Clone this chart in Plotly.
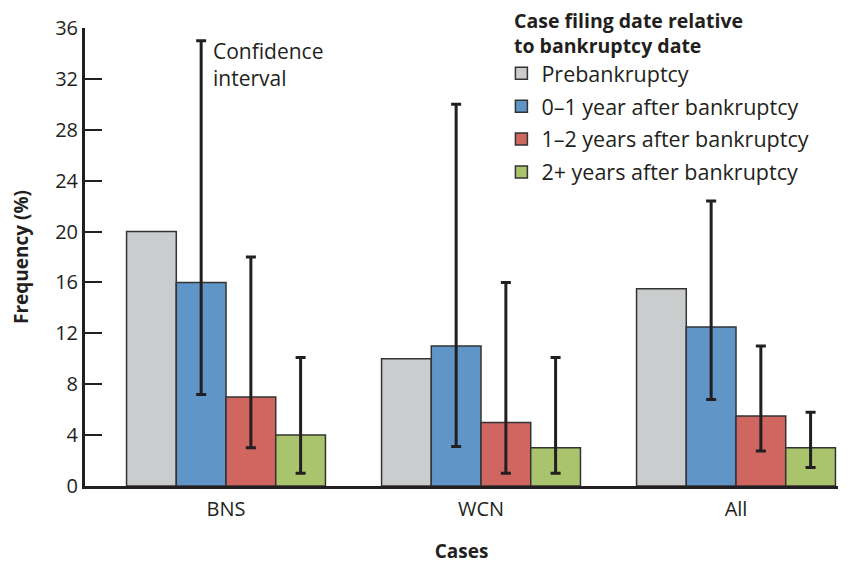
import plotly.graph_objects as go

categories = ["BNS", "WCN", "All"]
series_names = ["Prebankruptcy", "0–1 year after bankruptcy",
                "1–2 years after bankruptcy", "2+ years after bankruptcy"]
pre_vals = [20, 10, 15.5]
y01_vals = [16, 11, 12.5]
y12_vals = [7, 5, 5.5]
y2p_vals = [4, 3, 3]
# confidence intervals (lower, upper)
y01_lo = [7.2, 3.1, 6.8]
y01_hi = [35, 30, 22.4]
y12_lo = [3, 1, 2.75]
y12_hi = [18, 16, 11]
y2p_lo = [1, 1, 1.45]
y2p_hi = [10.1, 10.1, 5.8]
y_ticks = [0, 4, 8, 12, 16, 20, 24, 28, 32, 36]

colors = ["#cbcccd", "#6095c8", "#d06660", "#a9c46c"]
INK = "#231f20"
FONT = "Open Sans"

fig = go.Figure()

def add(name, vals, color, lo=None, hi=None):
    err = None
    if lo is not None:
        err = dict(type="data", symmetric=False,
                   array=[h - v for h, v in zip(hi, vals)],
                   arrayminus=[v - l for v, l in zip(vals, lo)],
                   color=INK, thickness=3, width=5)
    fig.add_trace(go.Bar(
        x=categories, y=vals, name=name, legendgroup=name,
        marker=dict(color=color, line=dict(color="#333333", width=1.5)),
        error_y=err))

add(series_names[0], pre_vals, colors[0])
add(series_names[1], y01_vals, colors[1], y01_lo, y01_hi)
add(series_names[2], y12_vals, colors[2], y12_lo, y12_hi)
add(series_names[3], y2p_vals, colors[3], y2p_lo, y2p_hi)

fig.add_annotation(x=0.167, y=0.985, xref="paper", yref="paper",
                   text="Confidence<br>interval", showarrow=False,
                   xanchor="left", yanchor="top", align="left",
                   font=dict(family=FONT, size=21, color=INK))

fig.add_annotation(x=0.568, y=1.047, xref="paper", yref="paper",
                   text="<b>Case filing date relative<br>to bankruptcy date</b>",
                   showarrow=False, xanchor="left", yanchor="top", align="left",
                   borderpad=0,
                   font=dict(family=FONT, size=19.5, color=INK))

fig.update_layout(
    width=851, height=563,
    margin=dict(l=77, r=21, t=20, b=85, autoexpand=False),
    paper_bgcolor="white", plot_bgcolor="white",
    font=dict(family=FONT, size=20, color=INK),
    barmode="group", bargap=0.22, bargroupgap=0,
    legend=dict(
        x=0.553, y=0.946, xanchor="left", yanchor="top",
        font=dict(family=FONT, size=21.5, color=INK),
        tracegroupgap=2, bgcolor="rgba(0,0,0,0)"),
    xaxis=dict(
        range=[-0.553, 2.4], showline=True, linewidth=3, linecolor=INK,
        ticks="", showgrid=False, zeroline=False, ticklabelstandoff=3,
        tickfont=dict(family=FONT, size=20, color=INK),
        title=dict(text="<b>Cases</b>", font=dict(family=FONT, size=19, color=INK),
                   standoff=24)),
    yaxis=dict(
        range=[0, 36], tickvals=y_ticks, showline=True, linewidth=3,
        linecolor=INK, ticks="inside", ticklen=17, tickwidth=1.5,
        tickcolor=INK, showgrid=False, zeroline=False,
        tickfont=dict(family=FONT, size=20, color=INK),
        title=dict(text="<b>Frequency (%)</b>",
                   font=dict(family=FONT, size=19, color=INK), standoff=31)),
)

fig.write_html("out.html")
